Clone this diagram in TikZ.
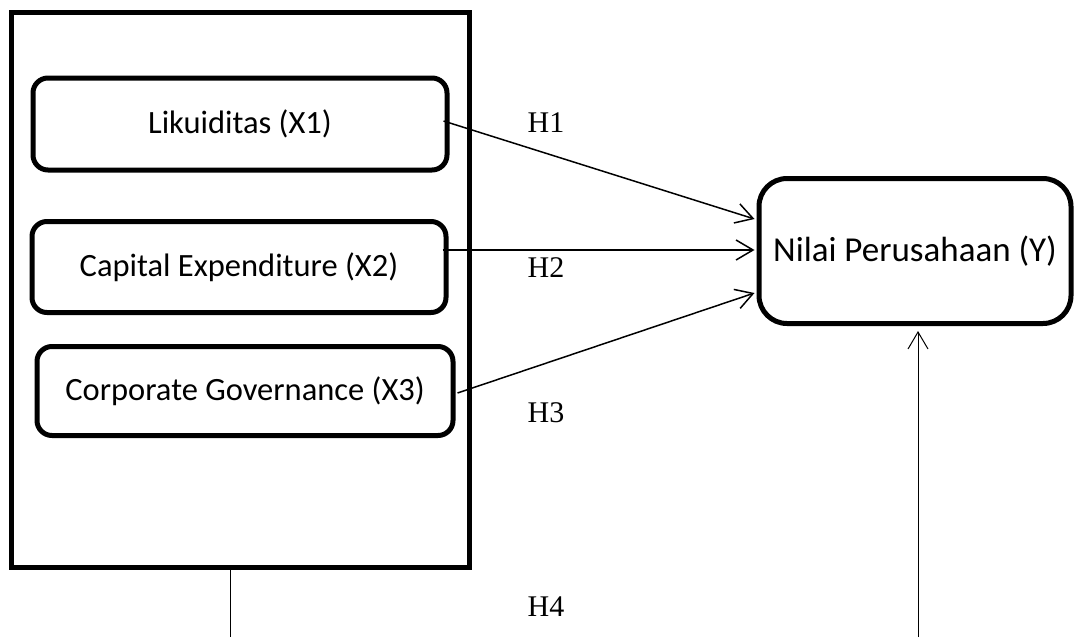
\documentclass[tikz,border=0pt]{standalone}
\usepackage{fontspec}
\setmainfont{Liberation Serif}
\newfontfamily\boxfont{Carlito}
\usetikzlibrary{arrows.meta,calc}
\begin{document}
\begin{tikzpicture}[x=1pt,y=-1pt,
  varbox/.style={draw,line width=5pt,rounded corners=15pt,inner sep=0pt,
    font=\boxfont\fontsize{32.5}{37}\selectfont},
  hlab/.style={font=\fontsize{30}{34}\selectfont,inner sep=0pt},
  conn/.style={line width=1.5pt,-{Straight Barb[length=17pt,width=20pt,line width=1.5pt]}},
  thin/.style={line width=1pt}]
\useasboundingbox (0,0) rectangle (1075,637);
\node[draw,line width=5pt,minimum width=458pt,minimum height=555pt,inner sep=0pt] (outer) at (240,290) {};
\node[varbox,minimum width=414pt,minimum height=92pt] (x1) at (240,124) {Likuiditas (X1)};
\node[varbox,minimum width=414pt,minimum height=91pt] (x2) at (239,267) {Capital Expenditure (X2)};
\node[varbox,minimum width=416pt,minimum height=89pt] (x3) at (245,391) {Corporate Governance (X3)};
\node[varbox,rounded corners=28pt,minimum width=312pt,minimum height=145pt,
  font=\boxfont\fontsize{35}{40}\selectfont] (y) at (915,251) {Nilai Perusahaan (Y)};
\node[hlab] (h1) at (546,123) {H1};
\node[hlab] (h2) at (546,268) {H2};
\node[hlab] (h3) at (546,413) {H3};
\node[hlab] (h4) at (546,607) {H4};
\coordinate (b1) at (230,637);
\coordinate (b2) at (918,637);
\draw[conn] ($(x1.east)+(-6,-3)$) -- ($(y.west)+(-2,-32)$);
\draw[conn] ($(x2.east)+(-6,-17)$) -- ($(y.west)+(-2,-1)$);
\draw[conn] ($(x3.east)+(2,2)$) -- ($(y.west)+(-2,42)$);
\draw[thin] (outer.south -| b1) -- (b1);
\draw[thin,-{Straight Barb[length=17pt,width=20pt,line width=1pt]}] (b2) -- ($(y.south -| b2)+(0,5)$);
\end{tikzpicture}
\end{document}
